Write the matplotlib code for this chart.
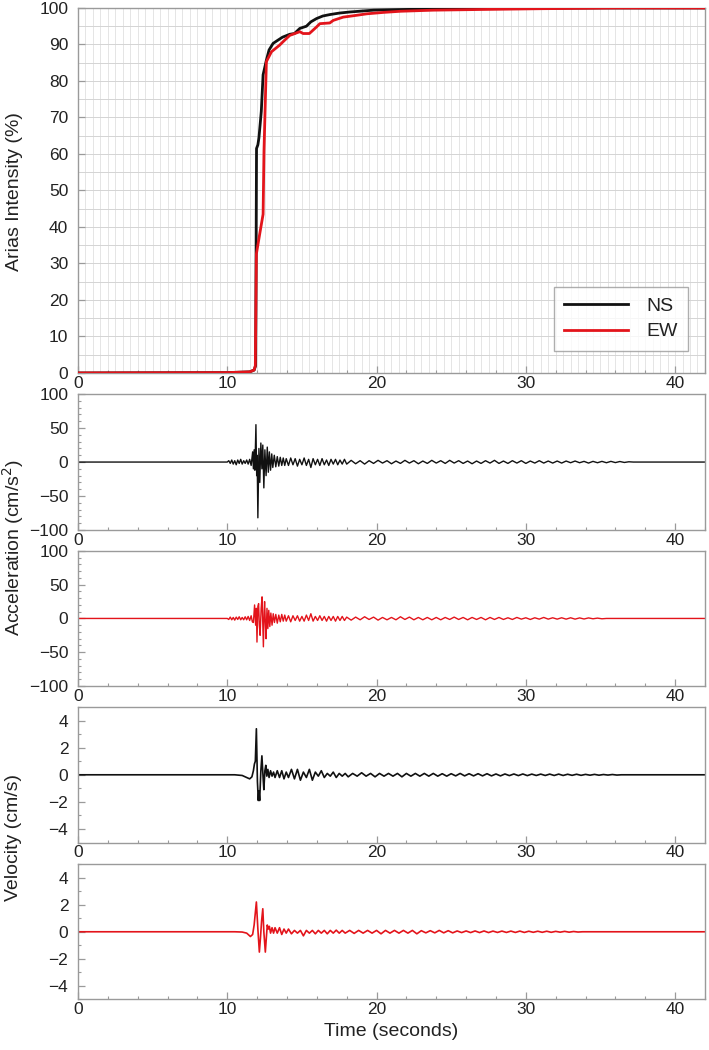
import matplotlib
matplotlib.use("Agg")
import matplotlib.pyplot as plt
from matplotlib.ticker import MultipleLocator
import numpy as np

plt.rcParams['font.family'] = ['Liberation Sans', 'DejaVu Sans']

# ---------------- data (time s, value) ----------------
arias_ns = [(0.0, 0.0), (10.0, 0.1), (11.5, 0.3), (11.8, 0.8), (11.9, 2.0), (11.93, 32.0),
            (11.96, 61.5), (12.05, 62.5), (12.12, 64.4), (12.2, 68.0), (12.28, 71.7),
            (12.4, 81.7), (12.5, 83.5), (12.62, 85.7), (12.8, 88.5), (13.07, 90.3),
            (13.4, 91.2), (13.7, 92.0), (14.19, 92.8), (14.5, 93.0), (14.86, 94.4),
            (15.3, 95.0), (15.6, 96.2), (15.98, 97.1), (16.4, 97.8), (16.88, 98.2),
            (17.5, 98.6), (18.2, 98.9), (19.8, 99.4), (22.0, 99.6), (25.0, 99.8),
            (30.0, 99.9), (35.0, 100.0), (42.0, 100.0)]
arias_ew = [(0.0, 0.0), (10.0, 0.1), (11.5, 0.3), (11.8, 0.8), (11.88, 2.0), (11.95, 32.6),
            (12.17, 38.0), (12.4, 43.5), (12.46, 60.8), (12.62, 85.3), (12.96, 88.0),
            (13.2, 88.8), (13.5, 89.8), (13.8, 91.0), (14.19, 92.5), (14.86, 93.5),
            (15.08, 93.0), (15.5, 93.0), (15.98, 94.8), (16.2, 95.7), (16.87, 95.9),
            (17.1, 96.6), (17.77, 97.5), (18.5, 97.9), (19.35, 98.4), (20.5, 98.8),
            (21.6, 99.1), (23.8, 99.4), (27.2, 99.6), (31.0, 99.8), (36.0, 100.0), (42.0, 100.0)]

acc_ns = [(0.0, 0), (10.0, 0), (10.1, 2), (10.2, -2), (10.3, 3), (10.4, -3), (10.5, 2), (10.6, -4),
          (10.7, 3), (10.8, -2), (10.9, 4), (11.0, -3), (11.1, 2), (11.2, -2), (11.3, 3), (11.4, -3),
          (11.5, 4), (11.6, -5), (11.7, 15), (11.75, -10), (11.8, 18), (11.85, -12), (11.92, 55),
          (11.97, -20), (12.0, 10), (12.05, -82), (12.12, 20), (12.18, -30), (12.25, 28),
          (12.32, -10), (12.38, 25), (12.45, -38), (12.52, 18), (12.6, -20), (12.68, 22),
          (12.75, -15), (12.82, 15), (12.9, -12), (12.98, 12), (13.05, -8), (13.15, 10),
          (13.25, -7), (13.35, 8), (13.45, -6), (13.55, 7), (13.65, -5), (13.75, 6), (13.85, -5),
          (13.95, 5), (14.1, -5), (14.25, 6), (14.4, -4), (14.55, 5), (14.7, -6), (14.85, 4),
          (15.0, -4), (15.15, 6), (15.3, -5), (15.45, 4), (15.6, -8), (15.75, 5), (15.9, -4),
          (16.05, 4), (16.2, -5), (16.35, 5), (16.5, -4), (16.65, 3), (16.8, -5), (16.95, 4),
          (17.1, -3), (17.25, 4), (17.4, -4), (17.55, 3), (17.7, -3), (17.85, 4), (18.0, -3),
          (18.3, 2.5), (18.6, -2.5), (18.9, 2), (19.2, -3), (19.5, 2), (19.8, -2), (20.1, 2.5),
          (20.4, -1.5), (20.7, 2), (21.0, -2.5), (21.3, 1.5), (21.6, -2), (21.9, 2.5), (22.2, -1.5),
          (22.5, 2), (22.8, -2.5), (23.1, 1.5), (23.4, -2), (23.7, 2.5), (24.0, -1.5), (24.3, 2),
          (24.6, -2), (24.9, 2.5), (25.2, -1.5), (25.5, 2), (25.8, -2), (26.1, 1.5), (26.4, -2.5),
          (26.7, 1.5), (27.0, -2), (27.3, 2), (27.6, -1.5), (27.9, 2.5), (28.2, -2), (28.5, 1.5),
          (28.8, -2), (29.1, 2), (29.4, -1.5), (29.7, 2), (30.0, -2), (30.3, 1.5), (30.6, -1.5),
          (30.9, 2), (31.2, -1.5), (31.5, 1.5), (31.8, -1.5), (32.1, 1.5), (32.4, -1.5), (32.7, 1.5),
          (33.0, -1), (33.3, 1.5), (33.6, -1), (33.9, 1), (34.2, -1.5), (34.5, 1), (34.8, -1),
          (35.1, 1), (35.4, -1), (35.7, 1), (36.0, -0.8), (36.3, 0.8), (36.6, -0.6), (36.9, 0.4),
          (37.2, 0), (42.0, 0)]

acc_ew = [(0.0, 0), (10.0, 0), (10.1, -1.5), (10.2, 2), (10.3, -2), (10.4, 1.5), (10.5, -2.5),
          (10.6, 2), (10.7, -1.5), (10.8, 2.5), (10.9, -2), (11.0, 1.5), (11.1, -2), (11.2, 2.5),
          (11.3, -2), (11.4, 3), (11.5, -3), (11.6, 4), (11.68, -5), (11.75, -6), (11.83, 20),
          (11.9, -10), (11.95, 15), (11.99, -35), (12.05, 18), (12.1, 22), (12.15, -10),
          (12.2, -25), (12.27, 15), (12.33, 32), (12.38, -10), (12.42, -42), (12.47, 10),
          (12.5, 25), (12.55, -5), (12.6, -30), (12.66, 15), (12.72, -15), (12.78, 12),
          (12.85, -12), (12.92, 8), (13.0, -10), (13.08, 7), (13.16, -6), (13.25, 6), (13.35, -7),
          (13.45, 5), (13.55, -5), (13.65, 6), (13.75, -4), (13.85, 5), (13.95, -4), (14.1, 4),
          (14.25, -5), (14.4, 4), (14.55, -3), (14.7, 4), (14.85, -4), (15.0, 3), (15.15, -4),
          (15.3, 5), (15.45, -3), (15.6, 7), (15.75, -4), (15.9, 3), (16.05, -3), (16.2, 4),
          (16.35, -3), (16.5, 3), (16.65, -4), (16.8, 3), (16.95, -3), (17.1, 3), (17.25, -4),
          (17.4, 3), (17.55, -3), (17.7, 3), (17.85, -3), (18.0, 2), (18.3, -2.5), (18.6, 2),
          (18.9, -2), (19.2, 2.5), (19.5, -1.5), (19.8, 2), (20.1, -2.5), (20.4, 1.5), (20.7, -2),
          (21.0, 1.5), (21.3, -2), (21.6, 2.5), (21.9, -1.5), (22.2, 2), (22.5, -2), (22.8, 1.5),
          (23.1, -2), (23.4, 1.5), (23.7, -2), (24.0, 1.5), (24.3, -2), (24.6, 1.5), (24.9, -1.5),
          (25.2, 2), (25.5, -1.5), (25.8, 1.5), (26.1, -2), (26.4, 1.5), (26.7, -1.5), (27.0, 1.5),
          (27.3, -2), (27.6, 1.5), (27.9, -1.5), (28.2, 1.5), (28.5, -1.5), (28.8, 1),
          (29.1, -1.5), (29.4, 1.5), (29.7, -1), (30.0, 1), (30.3, -1.5), (30.6, 1), (30.9, -1),
          (31.2, 1.5), (31.5, -1), (31.8, 1), (32.1, -1), (32.4, 1), (32.7, -1), (33.0, 1),
          (33.3, -1), (33.6, 0.8), (33.9, -0.8), (34.2, 0.8), (34.5, -0.5), (34.8, 0.5),
          (35.1, -0.5), (35.4, 0), (42.0, 0)]

vel_ns = [(0.0, 0), (10.5, 0), (11.0, -0.05), (11.3, -0.2), (11.5, -0.3), (11.65, -0.15),
          (11.75, 0.3), (11.82, 0.8), (11.88, 1.0), (11.95, 3.4), (12.02, -0.5), (12.08, -1.9),
          (12.12, -1.2), (12.17, -1.9), (12.25, 0.3), (12.32, 1.4), (12.4, -0.2), (12.45, -1.1),
          (12.52, 0.3), (12.58, 0.7), (12.65, -0.1), (12.72, 0.4), (12.8, -0.2), (12.9, 0.3),
          (13.0, -0.1), (13.1, 0.2), (13.2, -0.2), (13.35, 0.3), (13.5, -0.2), (13.65, 0.3),
          (13.8, -0.3), (13.95, 0.2), (14.1, -0.2), (14.3, 0.4), (14.5, -0.3), (14.7, 0.4),
          (14.9, -0.4), (15.1, 0.2), (15.3, -0.2), (15.5, 0.4), (15.7, -0.4), (15.9, 0.2),
          (16.1, -0.1), (16.3, 0.3), (16.5, -0.2), (16.7, 0.1), (16.9, -0.1), (17.1, 0.2),
          (17.3, -0.2), (17.5, 0.1), (17.7, -0.1), (17.9, 0.1), (18.1, -0.15), (18.4, 0.1),
          (18.7, -0.1), (19.0, 0.15), (19.3, -0.1), (19.6, 0.1), (19.9, -0.15), (20.2, 0.1),
          (20.5, -0.1), (20.8, 0.1), (21.1, -0.1), (21.4, 0.1), (21.7, -0.15), (22.0, 0.1),
          (22.3, -0.1), (22.6, 0.1), (22.9, -0.1), (23.2, 0.1), (23.5, -0.1), (23.8, 0.1),
          (24.1, -0.1), (24.4, 0.08), (24.7, -0.1), (25.0, 0.08), (25.3, -0.08), (25.6, 0.1),
          (25.9, -0.08), (26.2, 0.08), (26.5, -0.08), (26.8, 0.08), (27.1, -0.08), (27.4, 0.08),
          (27.7, -0.08), (28.0, 0.06), (28.3, -0.08), (28.6, 0.06), (28.9, -0.06), (29.2, 0.06),
          (29.5, -0.06), (29.8, 0.06), (30.1, -0.06), (30.4, 0.05), (30.7, -0.05), (31.0, 0.05),
          (31.3, -0.05), (31.6, 0.05), (31.9, -0.05), (32.2, 0.05), (32.5, -0.05), (32.8, 0.04),
          (33.1, -0.04), (33.4, 0.04), (33.7, -0.04), (34.0, 0.03), (34.3, -0.03), (34.6, 0.03),
          (34.9, -0.03), (35.2, 0.02), (35.5, -0.02), (35.8, 0.02), (36.1, -0.02), (36.4, 0.0),
          (42.0, 0.0)]

vel_ew = [(0.0, 0), (10.5, 0), (11.0, -0.02), (11.3, -0.1), (11.55, -0.35), (11.7, -0.2),
          (11.8, 0.5), (11.95, 2.2), (12.05, 0.2), (12.15, -1.5), (12.22, -0.5), (12.3, 0.8),
          (12.38, 1.7), (12.45, 0.0), (12.55, -1.5), (12.62, -0.4), (12.68, 0.5), (12.75, 0.2),
          (12.82, 0.4), (12.9, -0.1), (13.0, 0.3), (13.1, -0.1), (13.2, 0.3), (13.35, -0.1),
          (13.5, 0.3), (13.65, -0.2), (13.8, 0.2), (13.95, -0.1), (14.1, 0.2), (14.3, -0.15),
          (14.5, 0.1), (14.7, -0.1), (14.9, 0.1), (15.1, -0.3), (15.3, 0.1), (15.5, -0.1),
          (15.7, 0.1), (15.9, -0.15), (16.1, 0.1), (16.3, -0.1), (16.5, 0.1), (16.7, -0.15),
          (16.9, 0.1), (17.1, -0.1), (17.3, 0.12), (17.5, -0.1), (17.7, 0.1), (17.9, -0.1),
          (18.2, 0.1), (18.5, -0.12), (18.8, 0.1), (19.1, -0.1), (19.4, 0.1), (19.7, -0.1),
          (20.0, 0.1), (20.3, -0.15), (20.6, 0.1), (20.9, -0.1), (21.2, 0.1), (21.5, -0.1),
          (21.8, 0.1), (22.1, -0.1), (22.4, 0.1), (22.7, -0.15), (23.0, 0.08), (23.3, -0.08),
          (23.6, 0.08), (23.9, -0.08), (24.2, 0.1), (24.5, -0.08), (24.8, 0.08), (25.1, -0.08),
          (25.4, 0.06), (25.7, -0.06), (26.0, 0.06), (26.3, -0.06), (26.6, 0.06), (26.9, -0.06),
          (27.2, 0.06), (27.5, -0.06), (27.8, 0.05), (28.1, -0.05), (28.4, 0.05), (28.7, -0.05),
          (29.0, 0.05), (29.3, -0.05), (29.6, 0.05), (29.9, -0.05), (30.2, 0.04), (30.5, -0.04),
          (30.8, 0.04), (31.1, -0.04), (31.4, 0.04), (31.7, -0.04), (32.0, 0.03), (32.3, -0.03),
          (32.6, 0.03), (32.9, -0.03), (33.2, 0.02), (33.5, -0.02), (33.8, 0.0), (42.0, 0.0)]

x_ticks = [0, 10, 20, 30, 40]
labels = ["NS", "EW"]

# ---------------- style ----------------
BLACK = "#111111"
RED = "#e3141b"
SPINE = "#9a9a9a"
TXT = "#222222"
XMAX = 42.0

fig = plt.figure(figsize=(7.09, 10.5), dpi=100)
L, W = 0.110, 0.8843
boxes = [(0.6448, 0.3476), (0.4952, 0.1295), (0.3467, 0.1286), (0.1976, 0.1290), (0.0481, 0.1290)]
axes = [fig.add_axes([L, b, W, h]) for b, h in boxes]

def style(ax):
    for s in ax.spines.values():
        s.set_color(SPINE)
        s.set_linewidth(1.0)
    ax.set_xlim(0, XMAX)
    ax.set_xticks(x_ticks)
    ax.xaxis.set_minor_locator(MultipleLocator(2))
    ax.tick_params(which='both', direction='in', top=False, right=False,
                   color=SPINE, labelcolor=TXT, labelsize=12.5)
    ax.tick_params(which='major', length=5, width=0.9)
    ax.tick_params(which='minor', length=2.5, width=0.8)
    ax.tick_params(axis='x', pad=2)
    ax.tick_params(axis='y', pad=7)

# top panel: Arias intensity
ax = axes[0]
style(ax)
ax.set_ylim(0, 100)
ax.set_yticks(range(0, 101, 10))
for gx in np.arange(0.5, XMAX, 0.5):
    ax.axvline(gx, color="#e0e0e0", lw=0.6, zorder=0)
for gy in range(5, 100, 5):
    ax.axhline(gy, color="#d4d4d4", lw=0.7, zorder=0)
t, v = zip(*arias_ns)
ax.plot(t, v, color=BLACK, lw=2.0, label=labels[0], zorder=3)
t, v = zip(*arias_ew)
ax.plot(t, v, color=RED, lw=2.0, label=labels[1], zorder=4)
leg = ax.legend(loc='lower right', bbox_to_anchor=(0.973, 0.06), fontsize=14, frameon=True,
                fancybox=False, edgecolor="#9a9a9a", handlelength=3.3, borderpad=0.55,
                labelspacing=0.4, handletextpad=0.9, borderaxespad=0.0)
leg.get_frame().set_linewidth(1.0)
for tx in leg.get_texts():
    tx.set_color(TXT)

# acceleration panels
for ax, data, col in [(axes[1], acc_ns, BLACK), (axes[2], acc_ew, RED)]:
    style(ax)
    ax.set_ylim(-100, 100)
    ax.set_yticks([-100, -50, 0, 50, 100])
    ax.yaxis.set_minor_locator(MultipleLocator(10))
    t, v = zip(*data)
    ax.plot(t, v, color=col, lw=1.0)

# velocity panels
for ax, data, col in [(axes[3], vel_ns, BLACK), (axes[4], vel_ew, RED)]:
    style(ax)
    ax.set_ylim(-5, 5)
    ax.set_yticks([-4, -2, 0, 2, 4])
    ax.yaxis.set_minor_locator(MultipleLocator(1))
    t, v = zip(*data)
    ax.plot(t, v, color=col, lw=1.2)

fig.text(0.021, 0.818, "Arias Intensity (%)", rotation=90, ha='center', va='center',
         fontsize=14, color=TXT)
fig.text(0.019, 0.479, "Acceleration (cm/s$^2$)", rotation=90, ha='center', va='center',
         fontsize=14, color=TXT)
fig.text(0.019, 0.202, "Velocity (cm/s)", rotation=90, ha='center', va='center',
         fontsize=14, color=TXT)
fig.text(L + W / 2, 0.018, "Time (seconds)", ha='center', va='center', fontsize=14, color=TXT)

fig.savefig("out.png", dpi=100)
